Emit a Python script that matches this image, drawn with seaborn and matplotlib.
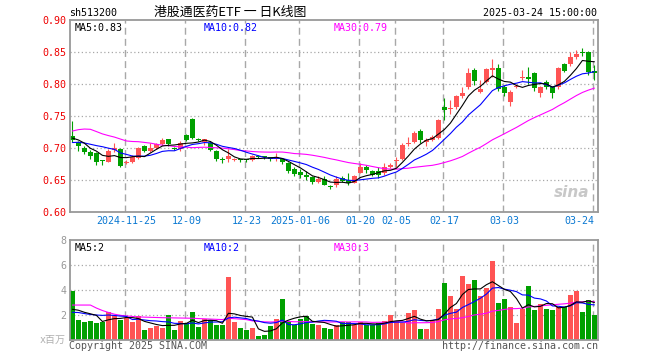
import numpy as np
import pandas as pd
import matplotlib
matplotlib.use("Agg")
import matplotlib.pyplot as plt
import seaborn as sns

# trading calendar: 2024-11-12 .. 2025-03-24, SSE holidays removed
holidays = ["2025-01-01", "2025-01-28", "2025-01-29", "2025-01-30", "2025-01-31",
            "2025-02-03", "2025-02-04"]
dates = pd.bdate_range("2024-11-12", "2025-03-24", freq="C", holidays=holidays)

tick_dates = ["2024-11-25", "2024-12-09", "2024-12-23", "2025-01-06", "2025-01-20",
              "2025-02-05", "2025-02-17", "2025-03-03", "2025-03-24"]
tick_labels = ["2024-11-25", "12-09", "12-23", "2025-01-06", "01-20",
               "02-05", "02-17", "03-03", "03-24"]

open_ = [0.719, 0.710, 0.701, 0.695, 0.692, 0.681, 0.679, 0.697, 0.699, 0.677,
         0.678, 0.685, 0.703, 0.696, 0.700, 0.706, 0.714, 0.701, 0.699, 0.721,
         0.746, 0.714, 0.710, 0.709, 0.696, 0.683, 0.683, 0.682, 0.682, 0.682,
         0.681, 0.688, 0.687, 0.686, 0.683, 0.683, 0.677, 0.668, 0.663, 0.659,
         0.655, 0.647, 0.652, 0.640, 0.642, 0.654, 0.651, 0.646, 0.662, 0.671,
         0.664, 0.665, 0.661, 0.670, 0.680, 0.683, 0.706, 0.710, 0.727, 0.710,
         0.713, 0.716, 0.765, 0.761, 0.765, 0.781, 0.795, 0.823, 0.788, 0.804,
         0.822, 0.826, 0.795, 0.773, 0.796, 0.810, 0.811, 0.817, 0.786, 0.804,
         0.795, 0.795, 0.831, 0.831, 0.842, 0.851, 0.851, 0.820]
high = [0.743, 0.712, 0.703, 0.697, 0.694, 0.682, 0.699, 0.709, 0.700, 0.681,
        0.689, 0.702, 0.705, 0.708, 0.709, 0.716, 0.715, 0.702, 0.711, 0.722,
        0.747, 0.716, 0.715, 0.711, 0.697, 0.686, 0.699, 0.685, 0.684, 0.684,
        0.689, 0.690, 0.688, 0.687, 0.692, 0.685, 0.678, 0.670, 0.668, 0.664,
        0.657, 0.656, 0.656, 0.642, 0.656, 0.657, 0.661, 0.659, 0.677, 0.674,
        0.666, 0.671, 0.677, 0.677, 0.687, 0.708, 0.718, 0.727, 0.730, 0.716,
        0.721, 0.746, 0.778, 0.776, 0.784, 0.795, 0.826, 0.826, 0.806, 0.826,
        0.840, 0.831, 0.799, 0.791, 0.800, 0.822, 0.827, 0.820, 0.797, 0.806,
        0.797, 0.827, 0.834, 0.851, 0.853, 0.857, 0.852, 0.830]
low = [0.710, 0.696, 0.691, 0.683, 0.674, 0.674, 0.678, 0.695, 0.671, 0.675,
       0.677, 0.684, 0.694, 0.695, 0.699, 0.705, 0.704, 0.698, 0.696, 0.711,
       0.714, 0.711, 0.705, 0.696, 0.680, 0.677, 0.679, 0.680, 0.679, 0.679,
       0.680, 0.685, 0.684, 0.680, 0.680, 0.676, 0.662, 0.657, 0.654, 0.650,
       0.644, 0.646, 0.642, 0.636, 0.640, 0.647, 0.643, 0.645, 0.661, 0.661,
       0.656, 0.654, 0.659, 0.669, 0.671, 0.682, 0.703, 0.709, 0.709, 0.704,
       0.711, 0.715, 0.744, 0.753, 0.762, 0.779, 0.793, 0.799, 0.786, 0.802,
       0.812, 0.789, 0.781, 0.766, 0.794, 0.806, 0.800, 0.790, 0.780, 0.793,
       0.778, 0.793, 0.819, 0.829, 0.839, 0.844, 0.815, 0.807]
close = [0.713, 0.704, 0.694, 0.688, 0.679, 0.680, 0.696, 0.700, 0.673, 0.678,
         0.687, 0.701, 0.696, 0.701, 0.707, 0.713, 0.706, 0.699, 0.708, 0.713,
         0.716, 0.713, 0.714, 0.697, 0.684, 0.681, 0.688, 0.683, 0.681, 0.681,
         0.688, 0.687, 0.686, 0.683, 0.686, 0.678, 0.665, 0.660, 0.658, 0.655,
         0.647, 0.652, 0.643, 0.639, 0.652, 0.649, 0.645, 0.656, 0.670, 0.666,
         0.659, 0.659, 0.670, 0.674, 0.682, 0.705, 0.709, 0.724, 0.713, 0.713,
         0.717, 0.744, 0.760, 0.763, 0.782, 0.786, 0.818, 0.805, 0.793, 0.824,
         0.826, 0.793, 0.786, 0.788, 0.798, 0.811, 0.808, 0.794, 0.795, 0.795,
         0.786, 0.826, 0.821, 0.842, 0.848, 0.849, 0.820, 0.817]
# volume, millions
volume = [3.95, 1.63, 1.47, 1.55, 1.39, 1.49, 2.29, 1.95, 1.63, 1.76,
          1.44, 1.92, 0.83, 0.99, 1.15, 0.99, 2.03, 0.83, 1.55, 1.36,
          2.27, 1.07, 1.68, 1.63, 1.20, 1.23, 5.07, 1.44, 0.99, 0.83,
          0.96, 0.35, 0.45, 1.15, 1.71, 3.31, 1.44, 1.23, 1.71, 1.92,
          1.28, 1.23, 0.99, 0.90, 1.23, 1.44, 1.44, 1.23, 1.44, 1.23,
          1.23, 1.39, 1.57, 2.03, 1.57, 1.39, 2.19, 2.40, 0.91, 0.91,
          1.55, 2.51, 4.59, 3.55, 2.51, 5.15, 4.51, 4.83, 3.55, 4.19,
          6.35, 2.99, 3.31, 2.69, 1.39, 2.51, 4.35, 2.43, 2.91, 2.51,
          2.43, 2.69, 2.69, 3.63, 3.95, 2.27, 3.23, 2.03]

# 29 sessions before the window, backed out of where the MA lines start
prior_close = [0.640, 0.665, 0.700, 0.785, 0.790, 0.775, 0.770, 0.765, 0.768, 0.712,
               0.710, 0.730, 0.735, 0.758, 0.757, 0.735, 0.730, 0.728, 0.728, 0.739,
               0.700, 0.705, 0.708, 0.700, 0.697, 0.719, 0.719, 0.728, 0.701]
prior_volume = [1.63, 1.47, 1.55, 8.60, 7.40, 6.90, 6.20, 4.30, 3.26, 2.64,
                3.10, 1.28, 1.44, 1.60, 1.44, 2.30, 1.10, 1.82, 1.63, 2.54,
                1.80, 2.30, 2.30, 1.80, 1.80, 2.00, 2.30, 2.15, 2.00]

RED = "#ff5454"
GREEN = "#00a000"
GRID = "#a8a8a8"

df = pd.DataFrame({"date": dates, "open": open_, "high": high, "low": low,
                   "close": close, "vol": volume})
df["idx"] = np.arange(len(df))
df["dir"] = np.where(df["close"] >= df["open"], "up", "down")

full_close = pd.Series(prior_close + close)
full_vol = pd.Series(prior_volume + volume)
npre = len(prior_close)
for n in (5, 10, 30):
    df[f"ma{n}"] = full_close.rolling(n).mean().iloc[npre:].to_numpy()
    df[f"vma{n}"] = full_vol.rolling(n).mean().iloc[npre:].to_numpy()

sns.set_style("white")
plt.rcParams["font.family"] = ["DejaVu Sans Mono", "Noto Sans CJK SC"]
FS = 7.2
LW = 0.8

fig = plt.figure(figsize=(6.6, 3.6), dpi=100)
W, H = 660, 360
ax = fig.add_axes([70 / W, 1 - 212.3 / H, 527.7 / W, 192 / H])
axv = fig.add_axes([70 / W, 1 - 340.3 / H, 527.7 / W, 100 / H])

tick_idx = [int(np.where(df["date"] == pd.Timestamp(d))[0][0]) for d in tick_dates]

# ---- price panel ----
colors = np.where(df["dir"] == "up", RED, GREEN)
ax.vlines(df["idx"], df["low"], df["high"], colors=colors, linewidth=0.8, zorder=2)
body = (df["close"] - df["open"]).abs().clip(lower=0.0016)
ax.bar(df["idx"], body, bottom=np.minimum(df["open"], df["close"]), width=0.8,
       color=colors, linewidth=0, zorder=2)

for col, c in (("ma30", "#ff00ff"), ("ma10", "#0000ff"), ("ma5", "black")):
    sns.lineplot(data=df, x="idx", y=col, color=c, linewidth=LW, ax=ax, zorder=3)

ax.set_xlim(-0.4, 87.55)
ax.set_ylim(0.60, 0.90)
ax.set_yticks([0.60, 0.65, 0.70, 0.75, 0.80, 0.85, 0.90])
ax.set_yticklabels([f"{v:.2f}" for v in ax.get_yticks()], color="#ee0000", fontsize=FS)
ax.set_xticks(tick_idx)
ax.set_xticklabels(tick_labels, color="#0a78d2", fontsize=FS)
ax.get_xticklabels()[-1].set_horizontalalignment("right")
ax.tick_params(length=0, pad=2.5)
for y in [0.65, 0.70, 0.75, 0.80, 0.85]:
    ax.axhline(y, color=GRID, linewidth=0.9, linestyle=(0, (1, 2)), zorder=1)
for t in tick_idx:
    ax.axvline(t - 0.3, color=GRID, linewidth=1.0, linestyle=(0, (5, 3)), zorder=1)
ax.set_xlabel("")
ax.set_ylabel("")

ax.text(0.008, 0.985, "MA5:0.83", transform=ax.transAxes, color="black",
        fontsize=FS, va="top")
ax.text(0.253, 0.985, "MA10:0.82", transform=ax.transAxes, color="#0000ff",
        fontsize=FS, va="top")
ax.text(0.5, 0.985, "MA30:0.79", transform=ax.transAxes, color="#ff00ff",
        fontsize=FS, va="top")
ax.text(0.985, 0.08, "sina", transform=ax.transAxes, color="#c8c8c8",
        fontsize=11, fontweight="bold", fontstyle="italic", ha="right",
        family="DejaVu Sans")

# ---- volume panel ----
sns.barplot(data=df, x="idx", y="vol", hue="dir", palette={"up": RED, "down": GREEN},
            native_scale=True, dodge=False, width=0.85, saturation=1, errorbar=None,
            legend=False, linewidth=0, ax=axv)
for col, c in (("vma30", "#ff00ff"), ("vma10", "#0000ff"), ("vma5", "black")):
    sns.lineplot(data=df, x="idx", y=col, color=c, linewidth=LW, ax=axv, zorder=3)

axv.set_xlim(-0.4, 87.55)
axv.set_ylim(0, 8)
axv.set_yticks([2, 4, 6, 8])
axv.set_yticklabels(["2", "4", "6", "8"], color="#999999", fontsize=FS)
axv.set_xticks([])
axv.tick_params(length=0, pad=2.5)
for y in [2, 4, 6]:
    axv.axhline(y, color=GRID, linewidth=0.9, linestyle=(0, (1, 2)), zorder=0.5)
for t in tick_idx:
    axv.axvline(t - 0.3, color=GRID, linewidth=1.0, linestyle=(0, (5, 3)), zorder=0.5)
axv.set_xlabel("")
axv.set_ylabel("")
axv.text(-0.008, 0.0, "x百万", transform=axv.transAxes, color="#b0b0b0",
         fontsize=FS, ha="right", va="center")
axv.text(0.008, 0.97, "MA5:2", transform=axv.transAxes, color="black",
         fontsize=FS, va="top")
axv.text(0.253, 0.97, "MA10:2", transform=axv.transAxes, color="#0000ff",
         fontsize=FS, va="top")
axv.text(0.5, 0.97, "MA30:3", transform=axv.transAxes, color="#ff00ff",
         fontsize=FS, va="top")

for a in (ax, axv):
    for s in a.spines.values():
        s.set_color("#999999")
        s.set_linewidth(1.3)

# ---- header / footer ----
fig.text(69 / W, 1 - 13 / H, "sh513200", fontsize=FS, va="center", color="black")
fig.text(230 / W, 1 - 12 / H, "港股通医药ETF 一 日K线图", fontsize=9.3, ha="center",
         va="center", color="black", family=["Noto Sans CJK SC", "DejaVu Sans"])
fig.text(597 / W, 1 - 13 / H, "2025-03-24 15:00:00", fontsize=FS, ha="right",
         va="center", color="black")
fig.text(69 / W, 1 - 346 / H, "Copyright 2025 SINA.COM", fontsize=FS, va="center",
         color="#555555")
fig.text(598 / W, 1 - 346 / H, "http://finance.sina.com.cn", fontsize=FS, ha="right",
         va="center", color="#555555")

fig.savefig("out.png", dpi=100, facecolor="white")
